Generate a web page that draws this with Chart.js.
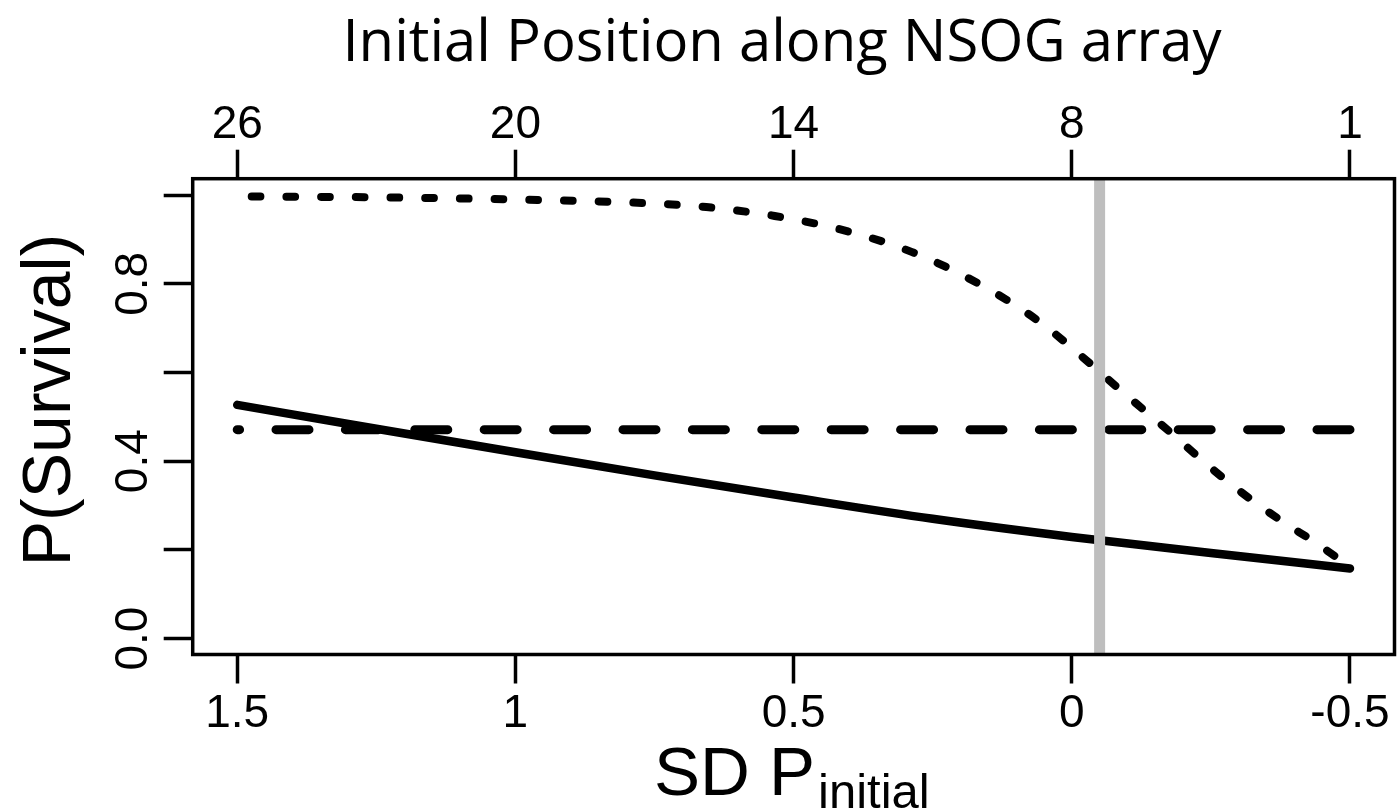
<!DOCTYPE html>
<html><head><meta charset="utf-8">
<script src="https://cdn.jsdelivr.net/npm/chart.js@4.4.1/dist/chart.umd.min.js"></script>
<style>html,body{margin:0;padding:0;background:#fff;}</style>
</head><body>
<canvas id="c" width="1397" height="812"></canvas>
<script>
// ---- text ----
const topTitle = 'Initial Position along NSOG array';
const yTitle = 'P(Survival)';
const xTitleMain = 'SD P';
const xTitleSub = 'initial';

// ---- ticks ----
const sdTickValues = [1.5, 1, 0.5, 0, -0.5];
const sdTickLabels = ['1.5', '1', '0.5', '0', '-0.5'];
const positionTickLabels = ['26', '20', '14', '8', '1'];
const yTickValues = [0, 0.2, 0.4, 0.6, 0.8, 1.0];
const yTickLabels = ['0.0', '', '0.4', '', '0.8', ''];

// ---- series ----
const solidX = [1.5, 1.25, 1.0, 0.75, 0.5, 0.25, 0.0, -0.25, -0.5];
const solidY = [0.527, 0.473, 0.420, 0.368, 0.318, 0.270, 0.229, 0.193, 0.158];

const dottedX = [1.5, 1.25, 1.0, 0.75, 0.657, 0.534, 0.411, 0.288, 0.170, 0.062, -0.034, -0.083, -0.130, -0.180, -0.225, -0.277, -0.327, -0.381, -0.437, -0.5];
const dottedY = [0.997, 0.995, 0.990, 0.981, 0.973, 0.953, 0.921, 0.872, 0.802, 0.718, 0.619, 0.565, 0.515, 0.462, 0.412, 0.357, 0.309, 0.262, 0.217, 0.162];

const dashedX = [-0.5, 1.5];
const dashedY = [0.471, 0.471];

const refLineX = [-0.05, -0.05];

const xMin = -0.58, xMax = 1.58, yMin = -0.036, yMax = 1.037;
const refLineY = [yMin, yMax];

const toPts = (xs, ys) => xs.map((x, i) => ({x: x, y: ys[i]}));

const tickFont = {family: 'Liberation Sans', size: 46};
const gridOpts = {display: true, drawOnChartArea: false, drawTicks: true, tickLength: 29, tickWidth: 3.5, tickColor: '#000', color: '#000'};

const decor = {
  id: 'decor',
  afterDatasetsDraw(chart) {
    const {ctx, chartArea: a} = chart;
    ctx.save();
    ctx.strokeStyle = '#000';
    ctx.lineWidth = 3.5;
    ctx.strokeRect(a.left, a.top, a.right - a.left, a.bottom - a.top);
    ctx.restore();
  },
  afterDraw(chart) {
    const ctx = chart.ctx;
    ctx.save();
    ctx.fillStyle = '#000';
    ctx.textBaseline = 'alphabetic';
    // top title
    ctx.font = '58px "Open Sans"';
    ctx.textAlign = 'center';
    ctx.fillText(topTitle, 782, 61);
    // y title
    ctx.save();
    ctx.translate(70, 400);
    ctx.rotate(-Math.PI / 2);
    ctx.font = '68px "Liberation Sans"';
    ctx.textAlign = 'center';
    ctx.fillText(yTitle, 0, 0);
    ctx.restore();
    // x title with subscript
    ctx.textAlign = 'left';
    ctx.font = '69px "Liberation Sans"';
    ctx.fillText(xTitleMain, 654, 795);
    const w = ctx.measureText(xTitleMain).width;
    ctx.font = '49px "Liberation Sans"';
    ctx.fillText(xTitleSub, 654 + w + 3, 808);
    ctx.restore();
  }
};

new Chart(document.getElementById('c'), {
  type: 'line',
  data: {
    datasets: [
      {label: 'reference', data: toPts(refLineX, refLineY), borderColor: '#bebebe', borderWidth: 11, pointRadius: 0, tension: 0, clip: false, order: 0, borderCapStyle: 'butt'},
      {label: 'dotted', data: toPts(dottedX, dottedY), borderColor: '#000', borderWidth: 8, borderDash: [8.7, 26], borderDashOffset: 20.2, borderCapStyle: 'round', borderJoinStyle: 'round', cubicInterpolationMode: 'monotone', pointRadius: 0, order: 1},
      {label: 'dashed', data: toPts(dashedX, dashedY), borderColor: '#000', borderWidth: 9, borderDash: [33, 36.4], borderCapStyle: 'round', pointRadius: 0, tension: 0, order: 2},
      {label: 'solid', data: toPts(solidX, solidY), borderColor: '#000', borderWidth: 8.5, borderCapStyle: 'round', borderJoinStyle: 'round', cubicInterpolationMode: 'monotone', pointRadius: 0, order: 3}
    ]
  },
  options: {
    responsive: false,
    animation: false,
    events: [],
    layout: {padding: {left: 0, right: 2.5, top: 0, bottom: 0}},
    plugins: {legend: {display: false}, tooltip: {enabled: false}, title: {display: false}},
    scales: {
      x: {
        type: 'linear', position: 'bottom', reverse: true, min: xMin, max: xMax,
        afterBuildTicks: s => { s.ticks = sdTickValues.map(v => ({value: v})); },
        afterFit: s => { s.height = 157.5; },
        grid: gridOpts, border: {display: false},
        ticks: {autoSkip: false, maxRotation: 0, padding: 3, color: '#000', font: tickFont, callback: (v, i) => sdTickLabels[i]}
      },
      x2: {
        type: 'linear', position: 'top', reverse: true, min: xMin, max: xMax,
        afterBuildTicks: s => { s.ticks = sdTickValues.map(v => ({value: v})); },
        afterFit: s => { s.height = 178.7; },
        grid: gridOpts, border: {display: false},
        ticks: {autoSkip: false, maxRotation: 0, padding: -3, color: '#000', font: tickFont, callback: (v, i) => positionTickLabels[i]}
      },
      y: {
        type: 'linear', position: 'left', min: yMin, max: yMax,
        afterBuildTicks: s => { s.ticks = yTickValues.map(v => ({value: v})); },
        afterFit: s => { s.width = 192.7; },
        grid: gridOpts, border: {display: false},
        ticks: {autoSkip: false, minRotation: 90, maxRotation: 90, crossAlign: 'center', padding: -3, color: '#000', font: tickFont, callback: (v, i) => yTickLabels[i]}
      }
    }
  },
  plugins: [decor]
});
</script>
</body></html>
